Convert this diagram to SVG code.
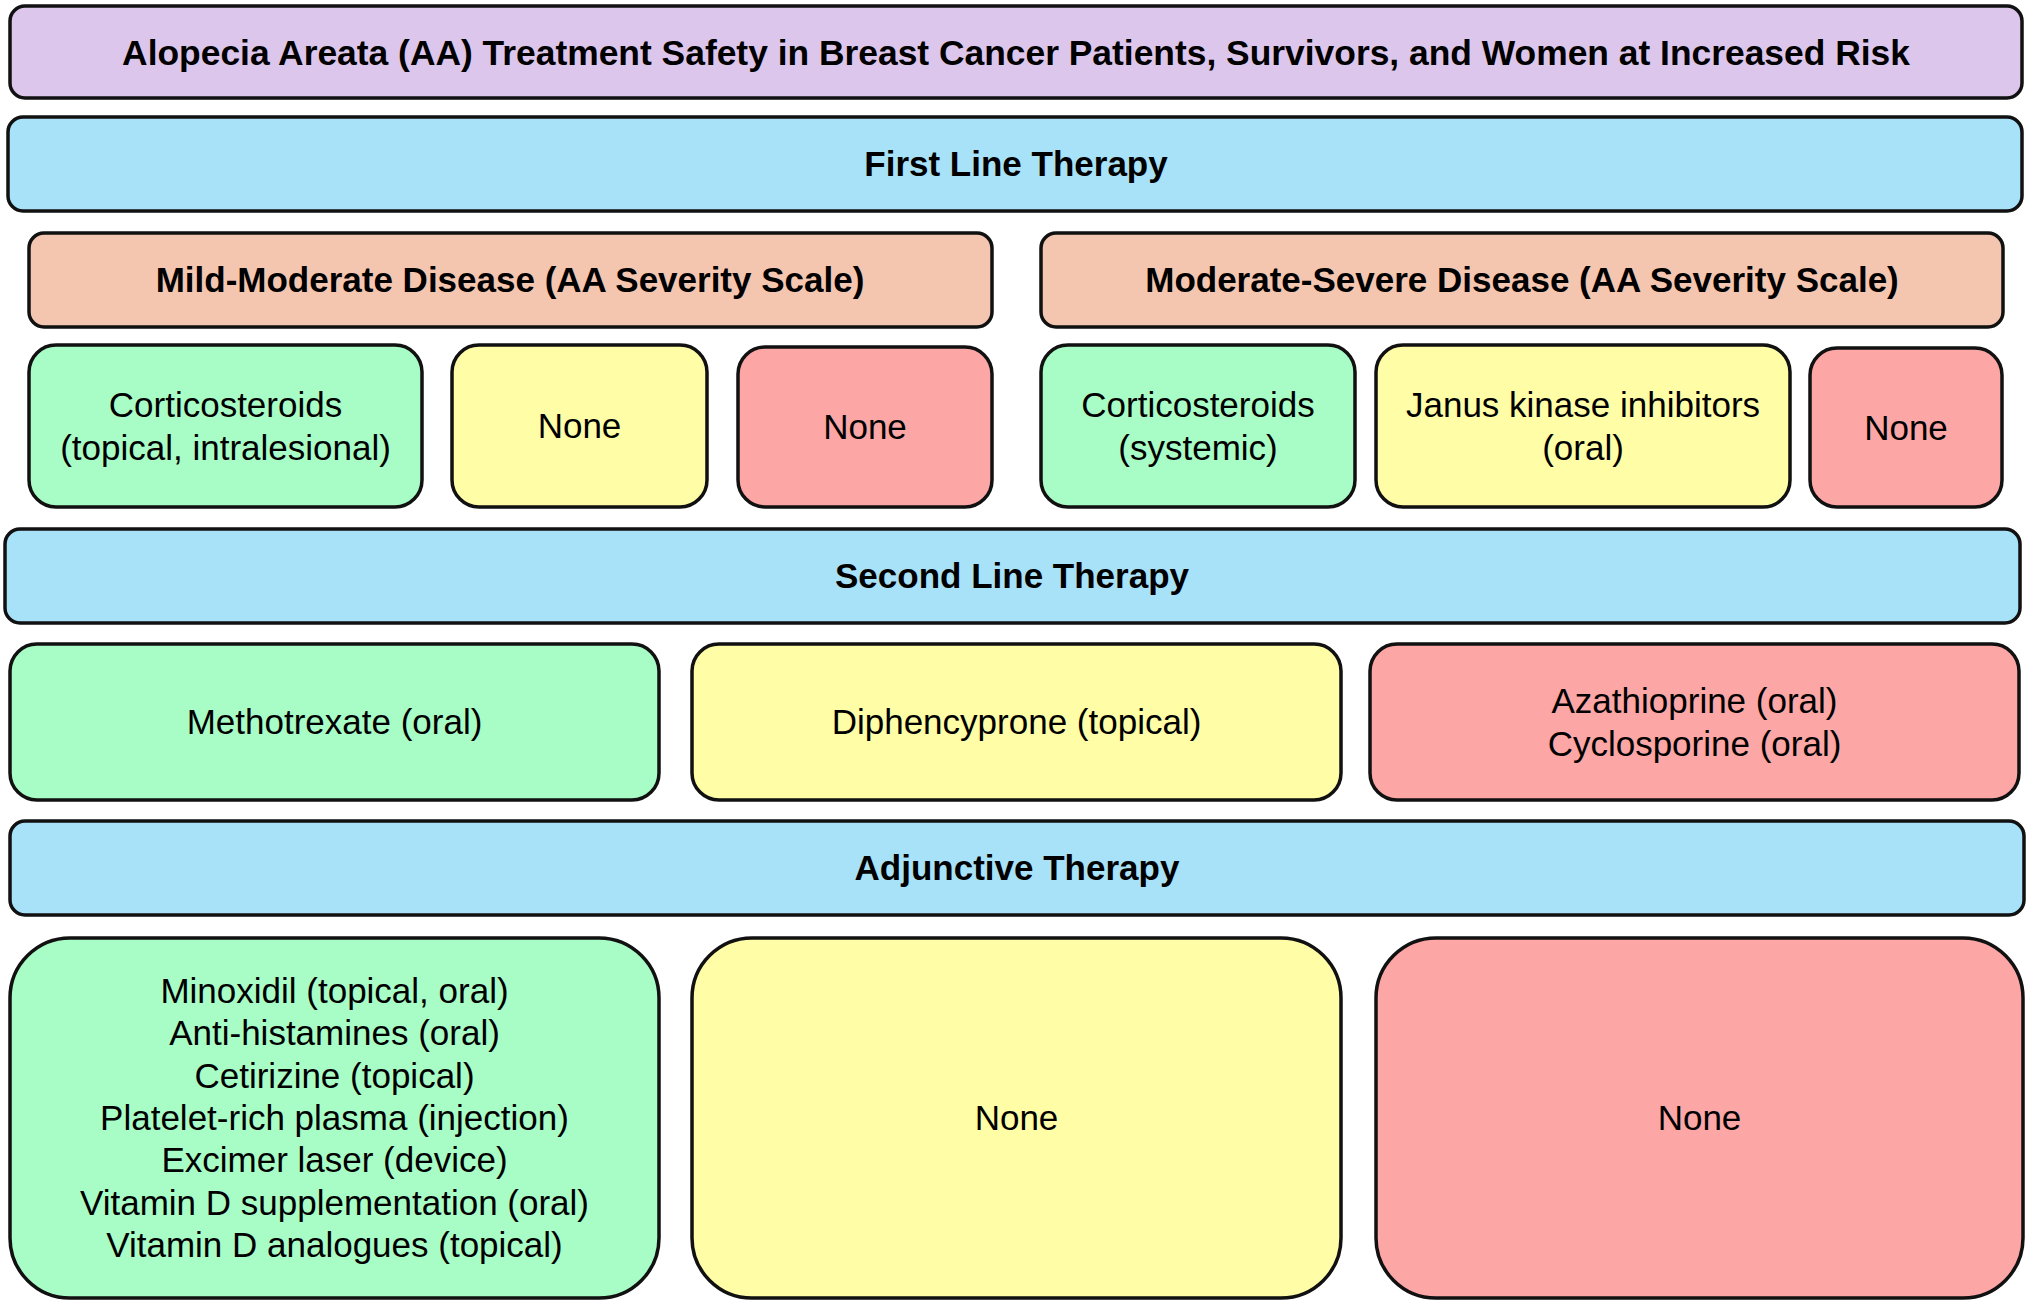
<svg xmlns="http://www.w3.org/2000/svg" width="2030" height="1304" viewBox="0 0 2030 1304">
<style>
  .box { stroke: #111; stroke-width: 3.5; }
  .purple { fill: #DDC6EC; }
  .blue { fill: #A8E2F9; }
  .salmon { fill: #F4C6B0; }
  .green { fill: #A8FCC6; }
  .yellow { fill: #FFFDA6; }
  .red { fill: #FCA6A6; }
  text { font-family: "Liberation Sans", Arial, sans-serif; font-size: 35px; fill: #000; text-anchor: middle; }
  .b { font-weight: bold; }
  .t { font-size: 35.4px; }
</style>
<rect x="0" y="0" width="2030" height="1304" fill="#fff"/>

<g id="title">
  <rect class="box purple" x="10" y="6" width="2012" height="92" rx="15"/>
  <text class="b t" x="1016" y="65">Alopecia Areata (AA) Treatment Safety in Breast Cancer Patients, Survivors, and Women at Increased Risk</text>
</g>

<g id="first-line">
  <rect class="box blue" x="8" y="117" width="2014" height="94" rx="15"/>
  <text class="b" x="1016" y="176">First Line Therapy</text>
</g>

<g id="mild-moderate">
  <rect class="box salmon" x="29" y="233" width="963" height="94" rx="15"/>
  <text class="b" x="510" y="292">Mild-Moderate Disease (AA Severity Scale)</text>
</g>

<g id="moderate-severe">
  <rect class="box salmon" x="1041" y="233" width="962" height="94" rx="15"/>
  <text class="b" x="1522" y="292">Moderate-Severe Disease (AA Severity Scale)</text>
</g>

<g id="mm-green">
  <rect class="box green" x="29" y="345" width="393" height="162" rx="27"/>
  <text x="225.5" y="417">Corticosteroids</text>
  <text x="225.5" y="460">(topical, intralesional)</text>
</g>

<g id="mm-yellow">
  <rect class="box yellow" x="452" y="345" width="255" height="162" rx="27"/>
  <text x="579.5" y="438">None</text>
</g>

<g id="mm-red">
  <rect class="box red" x="738" y="347" width="254" height="160" rx="27"/>
  <text x="865" y="439">None</text>
</g>

<g id="ms-green">
  <rect class="box green" x="1041" y="345" width="314" height="162" rx="27"/>
  <text x="1198" y="417">Corticosteroids</text>
  <text x="1198" y="460">(systemic)</text>
</g>

<g id="ms-yellow">
  <rect class="box yellow" x="1376" y="345" width="414" height="162" rx="27"/>
  <text x="1583" y="417">Janus kinase inhibitors</text>
  <text x="1583" y="460">(oral)</text>
</g>

<g id="ms-red">
  <rect class="box red" x="1810" y="348" width="192" height="159" rx="27"/>
  <text x="1906" y="440">None</text>
</g>

<g id="second-line">
  <rect class="box blue" x="5" y="529" width="2015" height="94" rx="15"/>
  <text class="b" x="1012" y="588">Second Line Therapy</text>
</g>

<g id="sl-green">
  <rect class="box green" x="10" y="644" width="649" height="156" rx="27"/>
  <text x="334.5" y="734">Methotrexate (oral)</text>
</g>

<g id="sl-yellow">
  <rect class="box yellow" x="692" y="644" width="649" height="156" rx="27"/>
  <text x="1016.5" y="734">Diphencyprone (topical)</text>
</g>

<g id="sl-red">
  <rect class="box red" x="1370" y="644" width="649" height="156" rx="27"/>
  <text x="1694.5" y="713">Azathioprine (oral)</text>
  <text x="1694.5" y="756">Cyclosporine (oral)</text>
</g>

<g id="adjunctive">
  <rect class="box blue" x="10" y="821" width="2014" height="94" rx="15"/>
  <text class="b" x="1017" y="880">Adjunctive Therapy</text>
</g>

<g id="adj-green">
  <rect class="box green" x="10" y="938" width="649" height="360" rx="60"/>
  <text x="334.5" y="1003">Minoxidil (topical, oral)</text>
  <text x="334.5" y="1045">Anti-histamines (oral)</text>
  <text x="334.5" y="1088">Cetirizine (topical)</text>
  <text x="334.5" y="1130">Platelet-rich plasma (injection)</text>
  <text x="334.5" y="1172">Excimer laser (device)</text>
  <text x="334.5" y="1215">Vitamin D supplementation (oral)</text>
  <text x="334.5" y="1257">Vitamin D analogues (topical)</text>
</g>

<g id="adj-yellow">
  <rect class="box yellow" x="692" y="938" width="649" height="360" rx="60"/>
  <text x="1016.5" y="1130">None</text>
</g>

<g id="adj-red">
  <rect class="box red" x="1376" y="938" width="647" height="360" rx="60"/>
  <text x="1699.5" y="1130">None</text>
</g>

<g id="connectors"></g>
</svg>
